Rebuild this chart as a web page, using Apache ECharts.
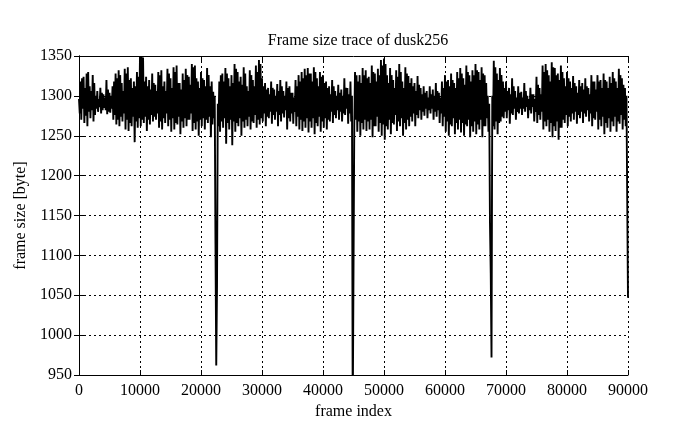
<!DOCTYPE html>
<html>
<head>
<meta charset="utf-8">
<script src="https://cdn.jsdelivr.net/npm/echarts@6/dist/echarts.min.js"></script>
<style>
html,body{margin:0;padding:0;background:#fff;}
#c{width:695px;height:429px;}
</style>
</head>
<body>
<div id="c"></div>
<script>
// Sampling step of the trace (frames per sample)
var frameStep = 125;
// Frame sizes [byte], one value per 125 frames (0 .. 90000)
var frameSizes = [
  1296,1278,1318,1270,1322,1284,1324,1266,1310,1275, 1328,1262,1330,1280,1312,1272,1306,1282,1326,1268,
  1316,1276,1300,1284,1306,1280,1296,1286,1310,1278, 1304,1282,1302,1285,1298,1282,1320,1277,1308,1280,
  1304,1279,1300,1284,1312,1270,1318,1276,1328,1264, 1322,1270,1332,1262,1326,1274,1316,1268,1306,1278,
  1334,1258,1328,1270,1336,1256,1320,1266,1322,1262, 1310,1274,1318,1242,1312,1268,1330,1260,1324,1272,
  1350,1262,1350,1270,1348,1266,1318,1274,1324,1256, 1312,1270,1320,1264,1308,1276,1328,1268,1316,1274,
  1314,1270,1306,1278,1330,1260,1326,1268,1332,1258, 1312,1272,1318,1266,1306,1278,1334,1262,1328,1270,
  1322,1255,1310,1272,1336,1258,1330,1266,1338,1264, 1316,1274,1316,1252,1308,1268,1328,1260,1320,1272,
  1334,1262,1326,1270,1324,1270,1314,1278,1340,1256, 1336,1266,1338,1258,1322,1268,1318,1250,1310,1270,
  1330,1262,1322,1272,1320,1258,1312,1270,1335,1266, 1326,1274,1312,1248,1318,1264,1305,1272,1300,1115,
  962,1062,1290,1262,1318,1255,1326,1268,1328,1260, 1318,1272,1335,1240,1328,1266,1322,1258,1312,1270,
  1326,1238,1316,1268,1340,1255,1334,1266,1330,1262, 1318,1272,1324,1250,1314,1268,1336,1260,1328,1270,
  1312,1262,1306,1274,1332,1258,1326,1268,1320,1266, 1312,1276,1338,1260,1330,1270,1345,1264,1340,1272,
  1322,1268,1312,1278,1316,1262,1308,1274,1310,1272, 1302,1280,1318,1265,1310,1276,1308,1270,1300,1280,
  1315,1262,1306,1276,1320,1268,1312,1278,1306,1273, 1300,1282,1318,1258,1310,1272,1312,1268,1304,1278,
  1304,1265,1298,1280,1320,1262,1312,1274,1326,1258, 1318,1270,1330,1256,1322,1268,1334,1260,1326,1272,
  1335,1254,1328,1268,1328,1260,1318,1272,1336,1252, 1330,1266,1322,1262,1312,1274,1330,1255,1324,1268,
  1326,1260,1316,1272,1318,1258,1310,1270,1312,1268, 1302,1280,1320,1266,1312,1276,1306,1272,1300,1282,
  1314,1270,1304,1280,1308,1268,1300,1278,1322,1276, 1310,1284,1310,1265,1302,1278,1318,1268,1300,900,
  900,1262,1330,1270,1326,1255,1318,1268,1326,1250, 1316,1266,1335,1258,1326,1270,1332,1256,1322,1268,
  1324,1258,1316,1270,1338,1248,1330,1262,1328,1262, 1318,1274,1334,1255,1326,1266,1345,1250,1338,1264,
  1347,1245,1340,1262,1326,1258,1316,1270,1335,1252, 1326,1266,1320,1264,1310,1276,1332,1256,1324,1268,
  1340,1262,1330,1272,1318,1250,1310,1266,1336,1258, 1328,1270,1325,1262,1316,1274,1322,1268,1312,1278,
  1316,1262,1306,1276,1325,1272,1314,1282,1310,1270, 1302,1280,1312,1275,1304,1284,1306,1272,1298,1282,
  1312,1278,1302,1284,1308,1270,1300,1280,1316,1274, 1306,1282,1304,1266,1298,1278,1318,1262,1310,1274,
  1326,1255,1318,1268,1320,1250,1312,1264,1328,1262, 1320,1272,1316,1252,1310,1266,1330,1258,1322,1270,
  1335,1254,1328,1266,1322,1250,1314,1264,1338,1262, 1330,1270,1326,1248,1318,1262,1332,1255,1326,1268,
  1340,1252,1332,1264,1330,1258,1320,1270,1336,1248, 1328,1262,1326,1262,1316,1272,1300,1255,1290,1140,
  1078,972,1300,1262,1344,1258,1336,1268,1328,1252, 1320,1266,1335,1268,1326,1274,1318,1272,1310,1280,
  1318,1272,1306,1282,1310,1265,1302,1278,1322,1276, 1312,1284,1306,1270,1298,1280,1312,1278,1304,1284,
  1305,1276,1298,1284,1316,1280,1306,1286,1300,1272, 1296,1282,1310,1278,1302,1286,1302,1268,1296,1280,
  1324,1266,1314,1276,1310,1270,1302,1280,1338,1258, 1330,1268,1340,1262,1332,1270,1326,1255,1318,1266,
  1342,1248,1336,1262,1335,1256,1326,1268,1328,1245, 1320,1260,1338,1260,1330,1270,1322,1266,1312,1276,
  1330,1262,1322,1274,1318,1268,1310,1278,1325,1270, 1316,1280,1312,1265,1304,1276,1320,1272,1312,1280,
  1316,1266,1308,1278,1322,1274,1312,1282,1310,1268, 1302,1278,1326,1262,1318,1272,1318,1270,1308,1280,
  1326,1258,1318,1270,1320,1262,1310,1274,1328,1252, 1320,1266,1318,1260,1310,1272,1324,1255,1316,1268,
  1330,1262,1322,1274,1318,1255,1310,1268,1334,1265, 1326,1276,1322,1258,1314,1270,1310,1262,1300,1170,
  1047
];
var xTicks = {min: 0, max: 90000, interval: 10000};
var yTicks = {min: 950, max: 1350, interval: 50};
var titleText = 'Frame size trace of dusk256';
var xName = 'frame index';
var yName = 'frame size [byte]';

var seriesData = frameSizes.map(function (v, i) { return [i * frameStep, v]; });

var font = '"Liberation Serif", "DejaVu Serif", serif';
var plain = function (v) { return String(v); };
var chart = echarts.init(document.getElementById('c'), null, {renderer: 'canvas'});
var axisLineStyle = {lineStyle: {color: '#000', width: 1}};
chart.setOption({
  animation: false,
  backgroundColor: '#fff',
  title: {
    text: titleText, left: 353, top: 28, textAlign: 'center',
    textStyle: {fontFamily: font, fontSize: 16, fontWeight: 'normal', color: '#000'}
  },
  grid: {left: 79, right: 67, top: 56, bottom: 54, containLabel: false},
  xAxis: [{
    type: 'value', min: xTicks.min, max: xTicks.max, interval: xTicks.interval,
    position: 'bottom',
    name: xName, nameLocation: 'middle', nameGap: 28,
    nameTextStyle: {fontFamily: font, fontSize: 16, color: '#000'},
    axisLine: axisLineStyle,
    axisTick: {inside: true, length: 5, lineStyle: {color: '#000'}},
    axisLabel: {fontFamily: font, fontSize: 16, color: '#000', margin: 8, formatter: plain},
    splitLine: {show: true, lineStyle: {color: '#000', type: [2, 3], width: 1}}
  }, {
    type: 'value', min: xTicks.min, max: xTicks.max, interval: xTicks.interval,
    position: 'top',
    axisLine: axisLineStyle,
    axisTick: {inside: true, length: 5, lineStyle: {color: '#000'}},
    axisLabel: {show: false}, splitLine: {show: false}
  }],
  yAxis: [{
    type: 'value', min: yTicks.min, max: yTicks.max, interval: yTicks.interval,
    position: 'left',
    name: yName, nameLocation: 'middle', nameGap: 50, nameRotate: 90,
    nameTextStyle: {fontFamily: font, fontSize: 16, color: '#000'},
    axisLine: axisLineStyle,
    axisTick: {inside: true, length: 5, lineStyle: {color: '#000'}},
    axisLabel: {fontFamily: font, fontSize: 16, color: '#000', margin: 7, formatter: plain},
    splitLine: {show: true, lineStyle: {color: '#000', type: [2, 3], width: 1}}
  }, {
    type: 'value', min: yTicks.min, max: yTicks.max, interval: yTicks.interval,
    position: 'right',
    axisLine: axisLineStyle,
    axisTick: {inside: true, length: 5, lineStyle: {color: '#000'}},
    axisLabel: {show: false}, splitLine: {show: false}
  }],
  series: [{
    type: 'line', data: seriesData, xAxisIndex: 0, yAxisIndex: 0,
    showSymbol: false, symbol: 'none', clip: true,
    lineStyle: {color: '#000', width: 1.9, join: 'miter'},
    z: 3
  }]
});
</script>
</body>
</html>
